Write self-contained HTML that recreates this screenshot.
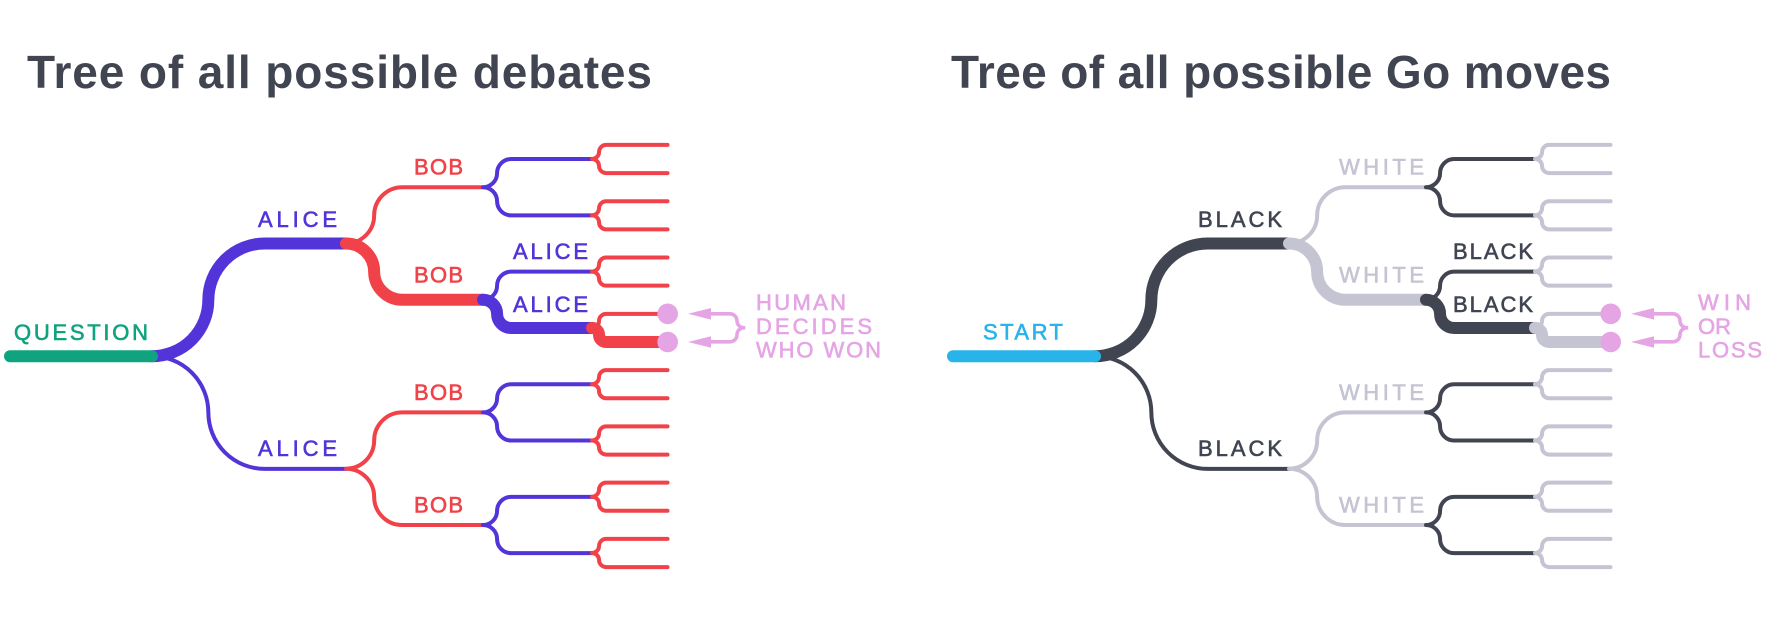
<!DOCTYPE html>
<html>
<head>
<meta charset="utf-8">
<style>
html,body{margin:0;padding:0;background:#fff;width:1768px;height:631px;overflow:hidden}
svg{display:block}
text{font-family:"Liberation Sans",sans-serif}
.t{font-size:46px;font-weight:bold;fill:#414552}
.l{font-size:22px;stroke-width:.6}
.a{fill:var(--a);stroke:var(--a)}
.b{fill:var(--b);stroke:var(--b)}
.p{fill:#e5a5e5;stroke:#e5a5e5}
</style>
</head>
<body>
<svg width="1768" height="631" viewBox="0 0 1768 631" xmlns="http://www.w3.org/2000/svg">
<defs>
<path id="f4" d="M0,0a7.04,7.04 0 0 0 7.04,-7.04a7.04,7.04 0 0 1 7.04,-7.04H75.5M0,0a7.04,7.04 0 0 1 7.04,7.04a7.04,7.04 0 0 0 7.04,7.04H75.5" fill="none" stroke-width="4" stroke-linecap="round" style="stroke:var(--b)"/>
<path id="f3" d="M0,0a14.08,14.08 0 0 0 14.08,-14.08a14.08,14.08 0 0 1 14.08,-14.08H109M0,0a14.08,14.08 0 0 1 14.08,14.08a14.08,14.08 0 0 0 14.08,14.08H109" fill="none" stroke-width="4" stroke-linecap="round" style="stroke:var(--a)"/>
<path id="f2" d="M0,0a28.15,28.15 0 0 0 28.15,-28.15a28.15,28.15 0 0 1 28.15,-28.15H137M0,0a28.15,28.15 0 0 1 28.15,28.15a28.15,28.15 0 0 0 28.15,28.15H137" fill="none" stroke-width="4" stroke-linecap="round" style="stroke:var(--b)"/>
<g id="tree" fill="none" stroke-linecap="round">
  <path d="M152,356.2a56.35,56.35 0 0 1 56.35,56.35a56.35,56.35 0 0 0 56.35,56.35H346" stroke-width="4" style="stroke:var(--a)"/>
  <path d="M152,356.2a56.35,56.35 0 0 0 56.35,-56.35a56.35,56.35 0 0 1 56.35,-56.35H346" stroke-width="12" style="stroke:var(--a)"/>
  <path d="M10,356.2H152" stroke-width="12" style="stroke:var(--r)"/>
  <use href="#f2" x="346" y="243.5"/><use href="#f2" x="346" y="468.7"/>
  <use href="#f3" x="483" y="187.2"/><use href="#f3" x="483" y="299.8"/><use href="#f3" x="483" y="412.4"/><use href="#f3" x="483" y="525"/>
  <use href="#f4" x="592" y="159"/><use href="#f4" x="592" y="215.3"/><use href="#f4" x="592" y="271.6"/><use href="#f4" x="592" y="327.9"/>
  <use href="#f4" x="592" y="384.2"/><use href="#f4" x="592" y="440.5"/><use href="#f4" x="592" y="496.7"/><use href="#f4" x="592" y="553"/>
  <path d="M346,243.5a28.15,28.15 0 0 1 28.15,28.15a28.15,28.15 0 0 0 28.15,28.15H483" stroke-width="12" style="stroke:var(--b)"/>
  <path d="M483,299.8a14.08,14.08 0 0 1 14.08,14.08a14.08,14.08 0 0 0 14.08,14.08H592" stroke-width="12" style="stroke:var(--a)"/>
  <path d="M592,327.9a7.04,7.04 0 0 1 7.04,7.04a7.04,7.04 0 0 0 7.04,7.04H667" stroke-width="12" style="stroke:var(--b)"/>
  <circle cx="667.7" cy="313.8" r="10.3" fill="#e5a5e5"/>
  <circle cx="667.7" cy="342" r="10.3" fill="#e5a5e5"/>
  <path d="M710,313.8H730a7,7 0 0 1 7,7a7,7 0 0 0 8,7a7,7 0 0 0 -8,7a7,7 0 0 1 -7,7H710" stroke="#e5a5e5" stroke-width="3.6"/>
  <path d="M688,313.8L711,308V319.6Z M688,342L711,336.2V347.8Z" fill="#e5a5e5"/>
</g>
</defs>

<!-- Left tree -->
<use href="#tree" style="--a:#5334d9;--b:#f04248;--r:#10a37f"/>
<text class="t" x="27" y="88" textLength="625">Tree of all possible debates</text>
<g style="--a:#5334d9;--b:#f04248">
<text class="l" fill="#10a37f" stroke="#10a37f" x="14" y="340" textLength="134">QUESTION</text>
<text class="l a" x="258" y="227" textLength="79">ALICE</text>
<text class="l a" x="258" y="456" textLength="79">ALICE</text>
<text class="l b" x="414" y="174.5" textLength="49">BOB</text>
<text class="l b" x="414" y="282.7" textLength="49">BOB</text>
<text class="l b" x="414" y="400" textLength="49">BOB</text>
<text class="l b" x="414" y="512.7" textLength="49">BOB</text>
<text class="l a" x="513" y="259" textLength="75">ALICE</text>
<text class="l a" x="513" y="312" textLength="75">ALICE</text>
<text class="l p" x="756" y="310" textLength="90">HUMAN</text>
<text class="l p" x="756" y="334" textLength="116">DECIDES</text>
<text class="l p" x="756" y="357.7" textLength="125">WHO WON</text>
</g>

<!-- Right tree -->
<use href="#tree" x="943" style="--a:#414552;--b:#c5c4d2;--r:#28b4ea"/>
<text class="t" x="951" y="88" textLength="660">Tree of all possible Go moves</text>
<g style="--a:#414552;--b:#c5c4d2">
<text class="l" fill="#28b4ea" stroke="#28b4ea" x="983" y="339.5" textLength="80">START</text>
<text class="l a" x="1198" y="227" textLength="84">BLACK</text>
<text class="l a" x="1198" y="456" textLength="84">BLACK</text>
<text class="l b" x="1339" y="174.5" textLength="85">WHITE</text>
<text class="l b" x="1339" y="282.7" textLength="85">WHITE</text>
<text class="l b" x="1339" y="400" textLength="85">WHITE</text>
<text class="l b" x="1339" y="512.7" textLength="85">WHITE</text>
<text class="l a" x="1453" y="259" textLength="80">BLACK</text>
<text class="l a" x="1453" y="312" textLength="80">BLACK</text>
<text class="l p" x="1698" y="310" textLength="53">WIN</text>
<text class="l p" x="1698" y="334" textLength="33">OR</text>
<text class="l p" x="1698" y="357.7" textLength="64">LOSS</text>
</g>
</svg>
</body>
</html>
